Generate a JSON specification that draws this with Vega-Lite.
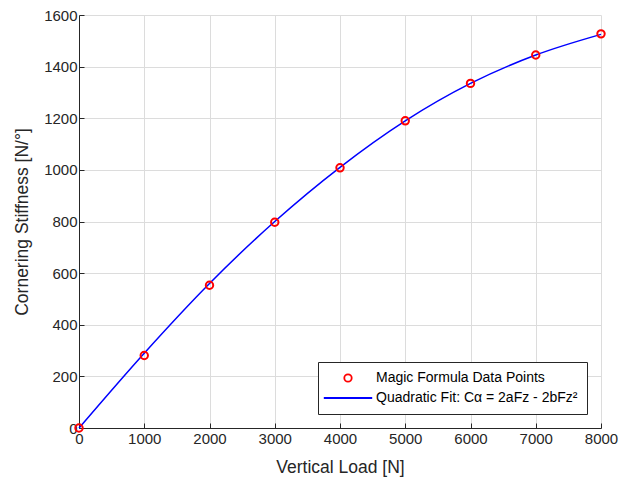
{
  "$schema": "https://vega.github.io/schema/vega-lite/v6.json",
  "autosize": "none",
  "width": 522,
  "height": 413,
  "padding": {"left": 79, "top": 15, "right": 18, "bottom": 53},
  "background": "white",
  "config": {
    "font": "Liberation Sans",
    "view": {"stroke": null},
    "axis": {
      "labelFont": "Liberation Sans",
      "titleFont": "Liberation Sans",
      "labelFontSize": 15,
      "titleFontSize": 17.5,
      "titleFontWeight": "normal",
      "labelColor": "#262626",
      "titleColor": "#262626",
      "domainColor": "#262626",
      "domainWidth": 1,
      "tickColor": "#262626",
      "tickSize": -5,
      "gridColor": "#dcdcdc",
      "gridWidth": 1
    },
    "legend": {
      "labelFont": "Liberation Sans",
      "labelFontSize": 14,
      "labelColor": "#000000",
      "orient": "bottom-right",
      "offset": 14,
      "strokeColor": "#262626",
      "fillColor": "#ffffff",
      "padding": 9,
      "rowPadding": 0,
      "symbolOffset": 9,
      "labelOffset": 16,
      "labelLimit": 400,
      "symbolStrokeWidth": 1.8
    }
  },
  "datasets": {
    "points": [
      {"Fz": 0, "C": 0, "series": "Magic Formula Data Points"},
      {"Fz": 1000, "C": 281, "series": "Magic Formula Data Points"},
      {"Fz": 2000, "C": 553, "series": "Magic Formula Data Points"},
      {"Fz": 3000, "C": 797, "series": "Magic Formula Data Points"},
      {"Fz": 4000, "C": 1008, "series": "Magic Formula Data Points"},
      {"Fz": 5000, "C": 1190, "series": "Magic Formula Data Points"},
      {"Fz": 6000, "C": 1335, "series": "Magic Formula Data Points"},
      {"Fz": 7000, "C": 1445, "series": "Magic Formula Data Points"},
      {"Fz": 8000, "C": 1527, "series": "Magic Formula Data Points"}
    ],
    "fit": [
      {"Fz": 0, "C": 0, "series": "Quadratic Fit: Cα = 2aFz - 2bFz²"},
      {"Fz": 1000, "C": 290, "series": "Quadratic Fit: Cα = 2aFz - 2bFz²"},
      {"Fz": 2000, "C": 560, "series": "Quadratic Fit: Cα = 2aFz - 2bFz²"},
      {"Fz": 3000, "C": 800, "series": "Quadratic Fit: Cα = 2aFz - 2bFz²"},
      {"Fz": 4000, "C": 1010, "series": "Quadratic Fit: Cα = 2aFz - 2bFz²"},
      {"Fz": 5000, "C": 1190, "series": "Quadratic Fit: Cα = 2aFz - 2bFz²"},
      {"Fz": 6000, "C": 1335, "series": "Quadratic Fit: Cα = 2aFz - 2bFz²"},
      {"Fz": 7000, "C": 1445, "series": "Quadratic Fit: Cα = 2aFz - 2bFz²"},
      {"Fz": 8000, "C": 1525, "series": "Quadratic Fit: Cα = 2aFz - 2bFz²"}
    ]
  },
  "encoding": {
    "x": {
      "field": "Fz", "type": "quantitative",
      "scale": {"domain": [0, 8000], "nice": false, "zero": false},
      "axis": {"title": "Vertical Load [N]", "values": [0,1000,2000,3000,4000,5000,6000,7000,8000], "format": "d", "labelPadding": 8, "titlePadding": 12, "labelFlush": false}
    },
    "y": {
      "field": "C", "type": "quantitative",
      "scale": {"domain": [0, 1600], "nice": false, "zero": false},
      "axis": {"title": "Cornering Stiffness [N/°]", "values": [0,200,400,600,800,1000,1200,1400,1600], "format": "d", "labelPadding": 7, "titlePadding": 12, "labelFlush": false}
    }
  },
  "layer": [
    {
      "data": {"name": "fit"},
      "mark": {"type": "line", "interpolate": "monotone", "strokeWidth": 1.5},
      "encoding": {
        "color": {
          "field": "series", "type": "nominal",
          "scale": {"domain": ["Magic Formula Data Points", "Quadratic Fit: Cα = 2aFz - 2bFz²"], "range": ["#ff0000", "#0000ff"]},
          "legend": {"title": null}
        }
      }
    },
    {
      "data": {"name": "points"},
      "mark": {"type": "point", "filled": false, "strokeWidth": 2, "opacity": 1},
      "encoding": {
        "color": {"field": "series", "type": "nominal", "legend": {"title": null}},
        "shape": {
          "field": "series", "type": "nominal",
          "scale": {"domain": ["Magic Formula Data Points", "Quadratic Fit: Cα = 2aFz - 2bFz²"], "range": ["circle", "M-2.2,0H2.2"]},
          "legend": {"title": null}
        },
        "size": {
          "field": "series", "type": "nominal",
          "scale": {"domain": ["Magic Formula Data Points", "Quadratic Fit: Cα = 2aFz - 2bFz²"], "range": [55, 484]},
          "legend": {"title": null}
        }
      }
    }
  ],
  "resolve": {"legend": {"color": "shared"}}
}
